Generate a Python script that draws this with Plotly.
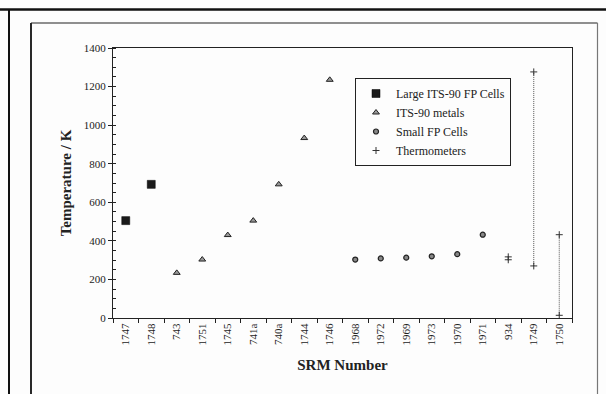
import plotly.graph_objects as go

categories = ["1747", "1748", "743", "1751", "1745", "741a", "740a", "1744", "1746",
              "1968", "1972", "1969", "1973", "1970", "1971", "934", "1749", "1750"]

large_x = ["1747", "1748"]
large_y = [505, 693]

metals_x = ["743", "1751", "1745", "741a", "740a", "1744", "1746"]
metals_y = [234, 303, 430, 505, 693, 933, 1235]

small_x = ["1968", "1972", "1969", "1973", "1970", "1971"]
small_y = [303, 309, 313, 320, 331, 432]

thermo_x = ["934", "1749", "1750"]
thermo_lo = [302, 270, 14]
thermo_hi = [317, 1276, 432]

FONT = "Liberation Serif"

fig = go.Figure()

# thermometer range lines (dotted)
lx, ly = [], []
for c, lo, hi in zip(thermo_x, thermo_lo, thermo_hi):
    lx += [c, c, None]
    ly += [lo, hi, None]
fig.add_trace(go.Scatter(x=lx, y=ly, mode="lines", showlegend=False,
                         line=dict(color="#555", width=1, dash="1px,1px"),
                         hoverinfo="skip"))

fig.add_trace(go.Scatter(x=large_x, y=large_y, mode="markers", name="Large ITS-90 FP Cells",
                         marker=dict(symbol="square", size=8, color="#1a1a1a",
                                     line=dict(color="#000", width=0.5))))
fig.add_trace(go.Scatter(x=metals_x, y=metals_y, mode="markers", name="ITS-90 metals",
                         marker=dict(symbol="triangle-up", size=6, color="#999",
                                     line=dict(color="#222", width=1))))
fig.add_trace(go.Scatter(x=small_x, y=small_y, mode="markers", name="Small FP Cells",
                         marker=dict(symbol="circle", size=5, color="#888",
                                     line=dict(color="#222", width=1.2))))
tx, ty = [], []
for c, lo, hi in zip(thermo_x, thermo_lo, thermo_hi):
    tx += [c, c]
    ty += [lo, hi]
fig.add_trace(go.Scatter(x=tx, y=ty, mode="markers", name="Thermometers",
                         marker=dict(symbol="cross-thin", size=5, color="#333",
                                     line=dict(color="#333", width=1))))

# plot area pixel geometry
L, R, T, B = 113, 572, 48, 318
W, H = 606, 394
pw, ph = R - L, B - T


def px(x):
    return (x - L) / pw


def py(y):
    return (B - y) / ph


shapes = [
    # thick top rule
    dict(type="line", xref="paper", yref="paper", x0=px(0), x1=px(W), y0=py(9.5), y1=py(9.5),
         line=dict(color="#111", width=2.5)),
    # left outer rule
    dict(type="line", xref="paper", yref="paper", x0=px(9), x1=px(9), y0=py(9.5), y1=py(H + 5),
         line=dict(color="#111", width=2)),
    # inner chart box
    dict(type="line", xref="paper", yref="paper", x0=px(31), x1=px(31), y0=py(23), y1=py(H + 5),
         line=dict(color="#111", width=1.8)),
    dict(type="line", xref="paper", yref="paper", x0=px(31), x1=px(597.5), y0=py(23), y1=py(23),
         line=dict(color="#222", width=1.2)),
    dict(type="line", xref="paper", yref="paper", x0=px(597.5), x1=px(597.5), y0=py(23), y1=py(H + 5),
         line=dict(color="#777", width=1.2)),
]

fig.update_layout(
    width=W, height=H,
    margin=dict(l=L, r=W - R, t=T, b=H - B),
    paper_bgcolor="#fdfdfd", plot_bgcolor="#fdfdfd",
    font=dict(family=FONT, color="#222", size=11),
    shapes=shapes,
    showlegend=True,
    legend=dict(x=px(355), y=py(78), xanchor="left", yanchor="top",
                bordercolor="#222", borderwidth=1, bgcolor="#fdfdfd",
                font=dict(family=FONT, size=12, color="#222"),
                tracegroupgap=0, itemwidth=30),
)

fig.update_xaxes(
    type="category", categoryorder="array", categoryarray=categories,
    range=[-0.5, len(categories) - 0.5],
    tickangle=-90, tickson="boundaries", ticks="outside", ticklen=4, tickcolor="#222",
    showline=True, linecolor="#222", linewidth=1.2, mirror=True,
    showgrid=False, zeroline=False,
    tickfont=dict(family=FONT, size=11, color="#222"),
    title=dict(text="<b>SRM Number</b>", font=dict(family=FONT, size=15, color="#222"), standoff=14),
)
fig.update_yaxes(
    range=[0, 1400], dtick=200, ticks="outside", ticklen=4, tickcolor="#222",
    minor=dict(dtick=50, ticks="inside", ticklen=3, tickcolor="#222"),
    showline=True, linecolor="#222", linewidth=1.2, mirror=True,
    showgrid=False, zeroline=False,
    tickfont=dict(family=FONT, size=11, color="#222"),
    title=dict(text="<b>Temperature / K</b>", font=dict(family=FONT, size=15, color="#222"), standoff=8),
)

fig.write_html("out.html")
